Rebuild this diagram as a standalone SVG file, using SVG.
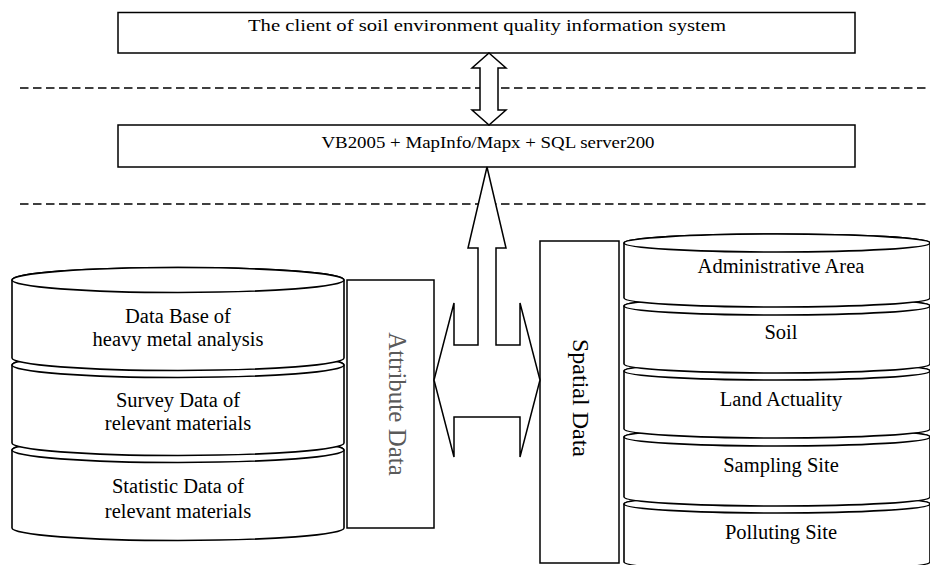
<svg xmlns="http://www.w3.org/2000/svg" width="930" height="565" viewBox="0 0 930 565">
  <style>
    .box { fill: #fff; stroke: #000; stroke-width: 1.5; }
    .can { fill: #fff; stroke: #000; stroke-width: 1.6; }
    .arrow { fill: #fff; stroke: #000; stroke-width: 1.5; stroke-linejoin: miter; }
    .dash { fill: none; stroke: #000; stroke-width: 1.5; stroke-dasharray: 8.5 4.5; }
    text { font-family: "Liberation Serif", "Times New Roman", serif; fill: #000; text-anchor: middle; }
    .head { font-size: 16px; }
    .can-t { font-size: 20.5px; }
    .side { font-size: 25px; }
  </style>
  <rect width="930" height="565" fill="#fff"/>

  <!-- layer separators -->
  <g id="separators">
    <line class="dash" x1="20" y1="88" x2="930" y2="88"/>
    <line class="dash" x1="20" y1="204" x2="930" y2="204"/>
  </g>

  <!-- client layer -->
  <g id="client">
    <rect class="box" x="118" y="12.5" width="737" height="40.5"/>
    <text class="head" x="487" y="31" textLength="478" lengthAdjust="spacingAndGlyphs">The client of soil environment quality information system</text>
  </g>

  <!-- application layer -->
  <g id="platform">
    <rect class="box" x="118" y="125" width="737" height="42"/>
    <text class="head" x="488" y="147.5" textLength="333" lengthAdjust="spacingAndGlyphs">VB2005 + MapInfo/Mapx + SQL server200</text>
  </g>

  <!-- attribute databases (drawn bottom-up so each upper can overlaps the one below) -->
  <g id="attr-statistic">
    <path class="can" d="M12 450 V528 A166 12.5 0 0 0 344 528 V450 A166 12.5 0 0 0 12 450 Z"/>
    <ellipse class="can" cx="178" cy="450" rx="166" ry="12.5"/>
    <text class="can-t" x="178" y="493">Statistic Data of</text>
    <text class="can-t" x="178" y="518">relevant materials</text>
  </g>
  <g id="attr-survey">
    <path class="can" d="M12 365 V443 A166 12.5 0 0 0 344 443 V365 A166 12.5 0 0 0 12 365 Z"/>
    <ellipse class="can" cx="178" cy="365" rx="166" ry="12.5"/>
    <text class="can-t" x="178" y="407">Survey Data of</text>
    <text class="can-t" x="178" y="430">relevant materials</text>
  </g>
  <g id="attr-heavy-metal">
    <path class="can" d="M12 280 V358 A166 12.5 0 0 0 344 358 V280 A166 12.5 0 0 0 12 280 Z"/>
    <ellipse class="can" cx="178" cy="280" rx="166" ry="12.5"/>
    <text class="can-t" x="178" y="323">Data Base of</text>
    <text class="can-t" x="178" y="346">heavy metal analysis</text>
  </g>

  <!-- attribute data label -->
  <g id="attribute-data">
    <rect class="box" x="347" y="280" width="87" height="248"/>
    <text class="side" style="fill:#5a5a5a" transform="translate(389 404) rotate(90)">Attribute Data</text>
  </g>

  <!-- spatial data label -->
  <g id="spatial-data">
    <rect class="box" x="540" y="241" width="79" height="322"/>
    <text class="side" style="font-size:24px" transform="translate(573 398) rotate(90)">Spatial Data</text>
  </g>

  <!-- spatial layers (bottom-up) -->
  <g id="sp-polluting">
    <path class="can" d="M624 504 V562 A153 9 0 0 0 930 562 V504 A153 9 0 0 0 624 504 Z"/>
    <ellipse class="can" cx="777" cy="504" rx="153" ry="9"/>
    <text class="can-t" x="781" y="539">Polluting Site</text>
  </g>
  <g id="sp-sampling">
    <path class="can" d="M624 437 V497 A153 9 0 0 0 930 497 V437 A153 9 0 0 0 624 437 Z"/>
    <ellipse class="can" cx="777" cy="437" rx="153" ry="9"/>
    <text class="can-t" x="781" y="472">Sampling Site</text>
  </g>
  <g id="sp-land">
    <path class="can" d="M624 371 V429 A153 9 0 0 0 930 429 V371 A153 9 0 0 0 624 371 Z"/>
    <ellipse class="can" cx="777" cy="371" rx="153" ry="9"/>
    <text class="can-t" x="781" y="406">Land Actuality</text>
  </g>
  <g id="sp-soil">
    <path class="can" d="M624 306 V364 A153 9 0 0 0 930 364 V306 A153 9 0 0 0 624 306 Z"/>
    <ellipse class="can" cx="777" cy="306" rx="153" ry="9"/>
    <text class="can-t" x="781" y="339">Soil</text>
  </g>
  <g id="sp-admin">
    <path class="can" d="M624 243 V298 A153 9 0 0 0 930 298 V243 A153 9 0 0 0 624 243 Z"/>
    <ellipse class="can" cx="777" cy="243" rx="153" ry="9"/>
    <text class="can-t" x="781" y="273">Administrative Area</text>
  </g>

  <!-- connectors -->
  <g id="connectors">
    <!-- client <-> platform -->
    <polygon class="arrow" points="489,53 506,68 498,68 498,110 506,110 489,125 472,110 480,110 480,68 472,68"/>
    <!-- attribute <-> spatial, feeding up into the platform -->
    <polygon class="arrow" points="487,167 506,248 496,248 496,345 520,345 520,303 540,380 520,457 520,417 454,417 454,457 434,380 454,303 454,345 478,345 478,248 468,248"/>
  </g>
</svg>
